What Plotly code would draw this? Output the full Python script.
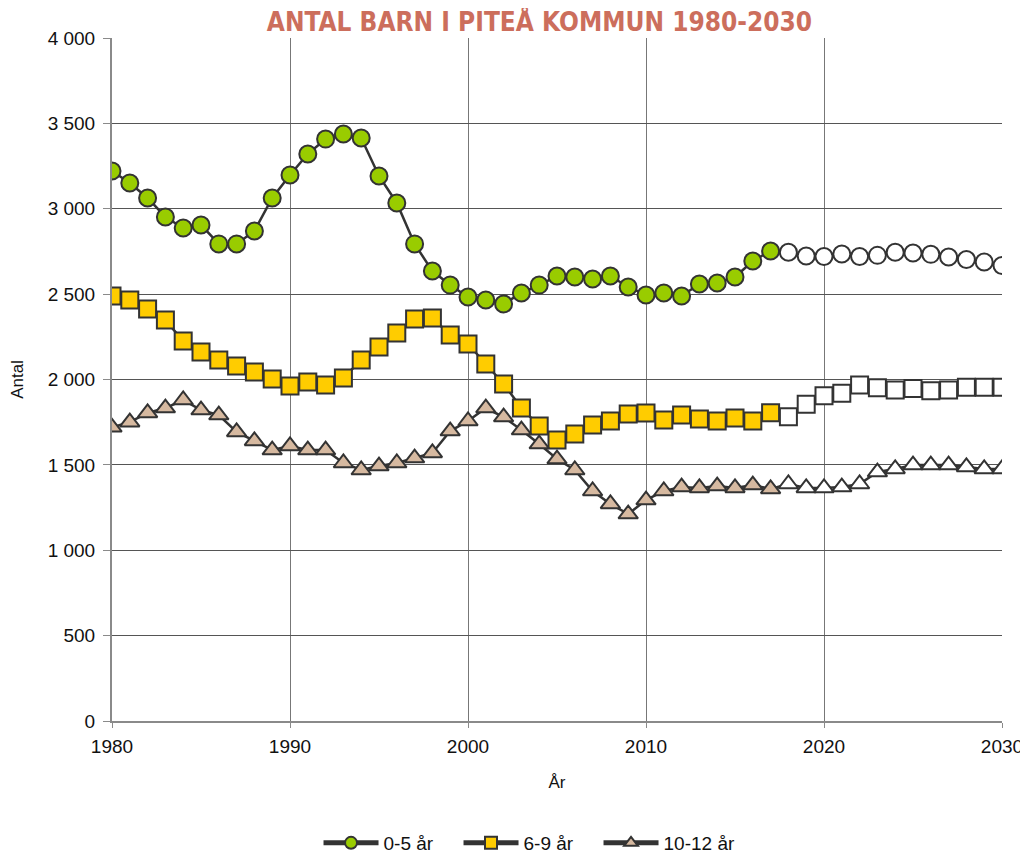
import plotly.graph_objects as go

years = list(range(1980, 2031))
last_actual = 2017

barn_0_5 = [3221, 3151, 3063, 2952, 2887, 2905, 2794, 2794, 2870, 3063,
            3198, 3321, 3408, 3438, 3414, 3192, 3034, 2794, 2635, 2553,
            2483, 2466, 2442, 2507, 2553, 2606, 2600, 2589, 2606, 2542,
            2495, 2507, 2489, 2559, 2565, 2600, 2694, 2753, 2745, 2723,
            2720, 2735, 2720, 2727, 2745, 2741, 2733, 2717, 2703, 2688, 2668]

barn_6_9 = [2489, 2466, 2413, 2348, 2225, 2161, 2114, 2079, 2044, 2003,
            1962, 1985, 1968, 2009, 2114, 2190, 2272, 2354, 2360, 2261,
            2208, 2091, 1974, 1833, 1728, 1646, 1681, 1734, 1757, 1798,
            1804, 1763, 1792, 1769, 1757, 1775, 1757, 1806, 1782, 1855,
            1905, 1919, 1968, 1952, 1938, 1948, 1934, 1938, 1954, 1954, 1954]

barn_10_12 = [1720, 1750, 1804, 1833, 1880, 1821, 1792, 1693, 1640, 1587,
              1611, 1587, 1587, 1511, 1470, 1493, 1511, 1540, 1570, 1698,
              1757, 1833, 1780, 1704, 1622, 1534, 1470, 1347, 1271, 1212,
              1294, 1347, 1370, 1365, 1376, 1365, 1382, 1359, 1388, 1365,
              1365, 1370, 1388, 1458, 1476, 1499, 1499, 1499, 1488, 1476, 1476]

series = [
    ("0-5 år", barn_0_5, "circle", "#99CC00"),
    ("6-9 år", barn_6_9, "square", "#FFCC00"),
    ("10-12 år", barn_10_12, "triangle-up", "#D6B9A0"),
]

fig = go.Figure()

for name, vals, symbol, color in series:
    # filled markers for actual years, open (white) for the forecast
    colors = [color if y <= last_actual else "white" for y in years]
    fig.add_trace(go.Scatter(
        x=years, y=vals, name=name,
        mode="lines+markers",
        line=dict(color="#333333", width=2.5),
        marker=dict(symbol=symbol, size=17, color=colors,
                    line=dict(color="#333333", width=2)),
    ))

font_main = "Liberation Sans, Arial, sans-serif"

# the page body adds an 8px offset, so margins are shifted to compensate
fig.update_layout(
    width=1028, height=870,
    paper_bgcolor="white", plot_bgcolor="white",
    separators=", ",
    font=dict(family=font_main, size=19, color="#111111"),
    title=dict(
        text="<b>ANTAL BARN I PITEÅ KOMMUN 1980-2030</b>",
        font=dict(family="DejaVu Sans Condensed, Liberation Sans, sans-serif",
                  size=26, color="#CC6E5C"),
        x=0.517, xanchor="center", y=1 - 14 / 870, yanchor="middle",
    ),
    xaxis=dict(
        range=[1980, 2030], dtick=10, tick0=1980,
        showgrid=True, gridcolor="#777777", gridwidth=1,
        showline=True, linecolor="#8a8a8a", linewidth=2,
        ticks="outside", ticklen=5, tickcolor="#8a8a8a",
        ticklabelstandoff=2,
        title=dict(text="År", font=dict(size=17), standoff=20),
        zeroline=False, automargin=False,
    ),
    yaxis=dict(
        range=[0, 4000], dtick=500,
        tickformat=",d",
        showgrid=True, gridcolor="#555555", gridwidth=1,
        showline=True, linecolor="#8a8a8a", linewidth=2,
        ticks="outside", ticklen=7, tickcolor="#8a8a8a",
        ticklabelstandoff=4,
        title=dict(text="Antal", font=dict(size=17), standoff=30),
        zeroline=False, automargin=False,
    ),
    legend=dict(
        orientation="h", xanchor="center", x=0.468,
        yanchor="middle", y=-0.1786,
        font=dict(size=19), itemsizing="constant",
        itemwidth=55, entrywidth=70,
    ),
    margin=dict(l=104, r=34, t=30, b=157),
    showlegend=True,
)

fig.write_html("out.html")
